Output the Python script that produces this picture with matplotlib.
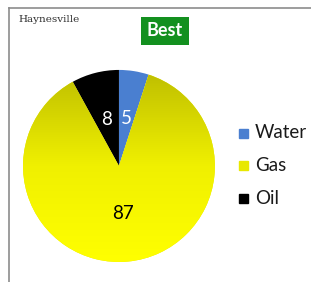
import numpy as np
import matplotlib
matplotlib.use("Agg")
import matplotlib.pyplot as plt
from matplotlib.colors import LinearSegmentedColormap
from matplotlib.patches import Rectangle

labels = ["Water", "Gas", "Oil"]
values = [5, 87, 8]
colors = ["#4a7fd0", "#e8e800", "#000000"]
label_colors = ["white", "black", "white"]

plt.rcParams['font.family'] = ['Lato', 'DejaVu Sans']

fig = plt.figure(figsize=(3.11, 2.82), dpi=100)
fig.patch.set_facecolor("white")

# frame (left + top only, as in the screenshot)
fig.add_artist(plt.Line2D([9/311, 9/311], [0, 1 - 8/282], color="#8c8c8c", lw=1.2))
fig.add_artist(plt.Line2D([9/311, 1], [1 - 8/282, 1 - 8/282], color="#8c8c8c", lw=1.2))

ax = fig.add_axes([0.074, 0.071, 0.617, 0.681])
wedges, texts, autotexts = ax.pie(values, colors=colors, startangle=90, counterclock=False,
                                  radius=1, autopct=lambda p: "%d" % round(p),
                                  pctdistance=0.5, wedgeprops=dict(linewidth=0))
for t, c in zip(autotexts, label_colors):
    t.set_color(c)
    t.set_fontsize(13.5)
ax.set_xlim(-1, 1)
ax.set_ylim(-1, 1)
ax.set_aspect("equal")

# gas wedge shading: olive at top -> bright yellow at bottom
cmap = LinearSegmentedColormap.from_list("gas", ["#ffff00", "#f0f000", "#bdbd00"])
grad = np.linspace(0, 1, 256).reshape(-1, 1)
im = ax.imshow(grad, extent=(-1, 1, -1, 1), origin="lower", cmap=cmap, aspect="auto", zorder=1.5)
im.set_clip_path(wedges[1])
for t in autotexts:
    t.set_zorder(3)

# legend
lx, tx = 243/311, 255/311
for i, (lab, col) in enumerate(zip(labels, colors)):
    y = 1 - (133 + i * 32.5) / 282
    fig.add_artist(Rectangle((lx - 4.5/311, y - 4.5/282), 9/311, 9/282, color=col,
                             transform=fig.transFigure))
    fig.text(tx, y, lab, fontsize=13.5, va="center", ha="left", color="#1a1a1a")

fig.text(18/311, 1 - 19/282, "Haynesville", fontsize=7.5, family="DejaVu Serif",
         va="center", ha="left", color="#333333")
fig.text(165/311, 1 - 31/282, "Best", fontsize=13, fontweight="bold", color="white",
         va="center", ha="center",
         bbox=dict(boxstyle="square,pad=0.3", facecolor="#13901f", edgecolor="none"))

fig.savefig("out.png", dpi=100)
